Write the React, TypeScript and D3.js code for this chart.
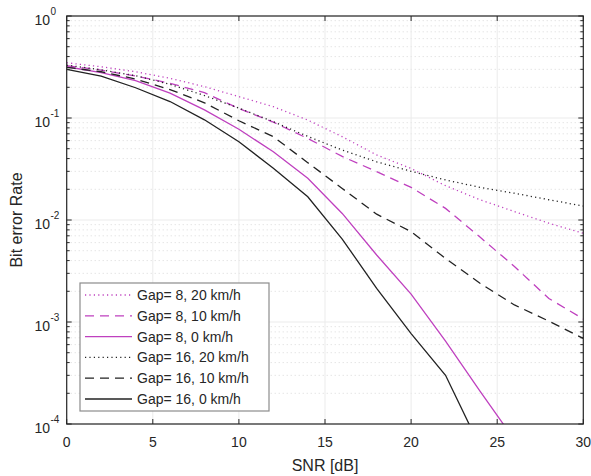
import React from "react";
import * as d3 from "d3";

const snr = [0, 2, 4, 6, 8, 10, 12, 14, 16, 18, 20, 22, 24, 26, 28, 30];

const gap8_20 = [0.348, 0.318, 0.284, 0.245, 0.203, 0.162, 0.129, 0.0955, 0.0656, 0.0434, 0.032, 0.0217, 0.0158, 0.0121, 0.0093, 0.0074];
const gap8_10 = [0.326, 0.295, 0.258, 0.219, 0.177, 0.124, 0.091, 0.063, 0.042, 0.0298, 0.0209, 0.013, 0.0068, 0.0035, 0.0017, 0.00107];
const gap8_0 = [0.318, 0.278, 0.232, 0.175, 0.12, 0.0775, 0.0467, 0.0256, 0.0116, 0.00454, 0.00188, 0.00065, 0.00021, 0.00007];
const gap16_20 = [0.33, 0.297, 0.26, 0.214, 0.166, 0.125, 0.092, 0.066, 0.0485, 0.0372, 0.03, 0.0247, 0.0209, 0.0183, 0.0158, 0.0137];
const gap16_10 = [0.314, 0.284, 0.241, 0.19, 0.141, 0.094, 0.0656, 0.0365, 0.0204, 0.0114, 0.0077, 0.0042, 0.0024, 0.00147, 0.00102, 0.00069];
const gap16_0 = [0.3, 0.258, 0.198, 0.145, 0.096, 0.0586, 0.0321, 0.0169, 0.0065, 0.00214, 0.00077, 0.0003, 0.00006];

const xTicks = [0, 5, 10, 15, 20, 25, 30];
const yExps = [0, -1, -2, -3, -4];

const MAG = "#bf40bf";

const seriesList = [
  { label: "Gap= 8, 20 km/h", values: gap8_20, color: MAG, dash: "1.2,3.2", width: 1.3 },
  { label: "Gap= 8, 10 km/h", values: gap8_10, color: MAG, dash: "9,6", width: 1.3 },
  { label: "Gap= 8, 0 km/h", values: gap8_0, color: MAG, dash: "", width: 1.3 },
  { label: "Gap= 16, 20 km/h", values: gap16_20, color: "#222", dash: "1.2,3.2", width: 1.3 },
  { label: "Gap= 16, 10 km/h", values: gap16_10, color: "#222", dash: "9,6", width: 1.3 },
  { label: "Gap= 16, 0 km/h", values: gap16_0, color: "#222", dash: "", width: 1.3 },
];

export default function App() {
  const W = 591, H = 476;
  const left = 66.7, right = 583.3, top = 16, bottom = 424;
  const x = d3.scaleLinear().domain([0, 30]).range([left, right]);
  const y = d3.scaleLog().domain([1e-4, 1]).range([bottom, top]);
  const font = "'Liberation Sans', Arial, Helvetica, sans-serif";

  const line = d3
    .line<[number, number]>()
    .x((d) => x(d[0]))
    .y((d) => y(d[1]));

  const minorY: number[] = [];
  for (let e = -4; e < 0; e++) {
    for (let m = 2; m <= 9; m++) minorY.push(m * Math.pow(10, e));
  }

  const legX = 80, legY = 283, legW = 189, legH = 128, rowH = 20.8;

  return (
    <svg width={W} height={H} style={{ position: "absolute", left: 0, top: 0 }} fontFamily={font}>
      <defs>
        <clipPath id="plotclip">
          <rect x={left} y={top} width={right - left} height={bottom - top} />
        </clipPath>
      </defs>
      <rect x={0} y={0} width={W} height={H} fill="#fff" />
      <rect x={left} y={top} width={right - left} height={bottom - top} fill="#fff" />
      {minorY.map((v, i) => (
        <line key={"mg" + i} x1={left} x2={right} y1={y(v)} y2={y(v)} stroke="#d9d9d9" strokeWidth={1} strokeDasharray="1,3" />
      ))}
      {xTicks.map((t) => (
        <line key={"gx" + t} x1={x(t)} x2={x(t)} y1={top} y2={bottom} stroke="#ebebeb" strokeWidth={1} />
      ))}
      {yExps.map((e) => (
        <line key={"gy" + e} x1={left} x2={right} y1={y(Math.pow(10, e))} y2={y(Math.pow(10, e))} stroke="#ebebeb" strokeWidth={1} />
      ))}
      <g clipPath="url(#plotclip)">
        {seriesList.map((s, i) => (
          <path
            key={"s" + i}
            d={line(s.values.map((v, j) => [snr[j], v] as [number, number])) || ""}
            fill="none"
            stroke={s.color}
            strokeWidth={s.width}
            strokeDasharray={s.dash || undefined}
          />
        ))}
      </g>
      <rect x={left} y={top} width={right - left} height={bottom - top} fill="none" stroke="#262626" strokeWidth={1.2} />
      {xTicks.map((t) => (
        <g key={"xt" + t}>
          <line x1={x(t)} x2={x(t)} y1={bottom} y2={bottom - 5} stroke="#262626" />
          <line x1={x(t)} x2={x(t)} y1={top} y2={top + 5} stroke="#262626" />
          <text x={x(t)} y={447} fontSize={14} textAnchor="middle" fill="#262626">
            {t}
          </text>
        </g>
      ))}
      {yExps.map((e) => {
        const yy = y(Math.pow(10, e));
        return (
          <g key={"yt" + e}>
            <line x1={left} x2={left + 5} y1={yy} y2={yy} stroke="#262626" />
            <line x1={right} x2={right - 5} y1={yy} y2={yy} stroke="#262626" />
            <text x={50} y={yy + 9} fontSize={14} textAnchor="end" fill="#262626">
              10
            </text>
            <text x={50.5} y={yy - 1} fontSize={10} textAnchor="start" fill="#262626">
              {e === 0 ? "0" : "-" + Math.abs(e)}
            </text>
          </g>
        );
      })}
      {minorY.map((v, i) => (
        <g key={"mt" + i}>
          <line x1={left} x2={left + 3} y1={y(v)} y2={y(v)} stroke="#262626" />
          <line x1={right} x2={right - 3} y1={y(v)} y2={y(v)} stroke="#262626" />
        </g>
      ))}
      <text x={(left + right) / 2} y={471} fontSize={16} textAnchor="middle" fill="#262626">
        SNR [dB]
      </text>
      <text transform={`translate(22, ${(top + bottom) / 2}) rotate(-90)`} fontSize={16} textAnchor="middle" fill="#262626">
        Bit error Rate
      </text>
      <rect x={legX} y={legY} width={legW} height={legH} fill="#fff" stroke="#8c8c8c" strokeWidth={1.2} />
      {seriesList.map((s, i) => {
        const cy = legY + 12 + i * rowH;
        return (
          <g key={"lg" + i}>
            <line x1={legX + 5} x2={legX + 52} y1={cy} y2={cy} stroke={s.color} strokeWidth={s.width} strokeDasharray={s.dash || undefined} />
            <text x={legX + 57} y={cy + 5} fontSize={14} fill="#262626">
              {s.label}
            </text>
          </g>
        );
      })}
    </svg>
  );
}
